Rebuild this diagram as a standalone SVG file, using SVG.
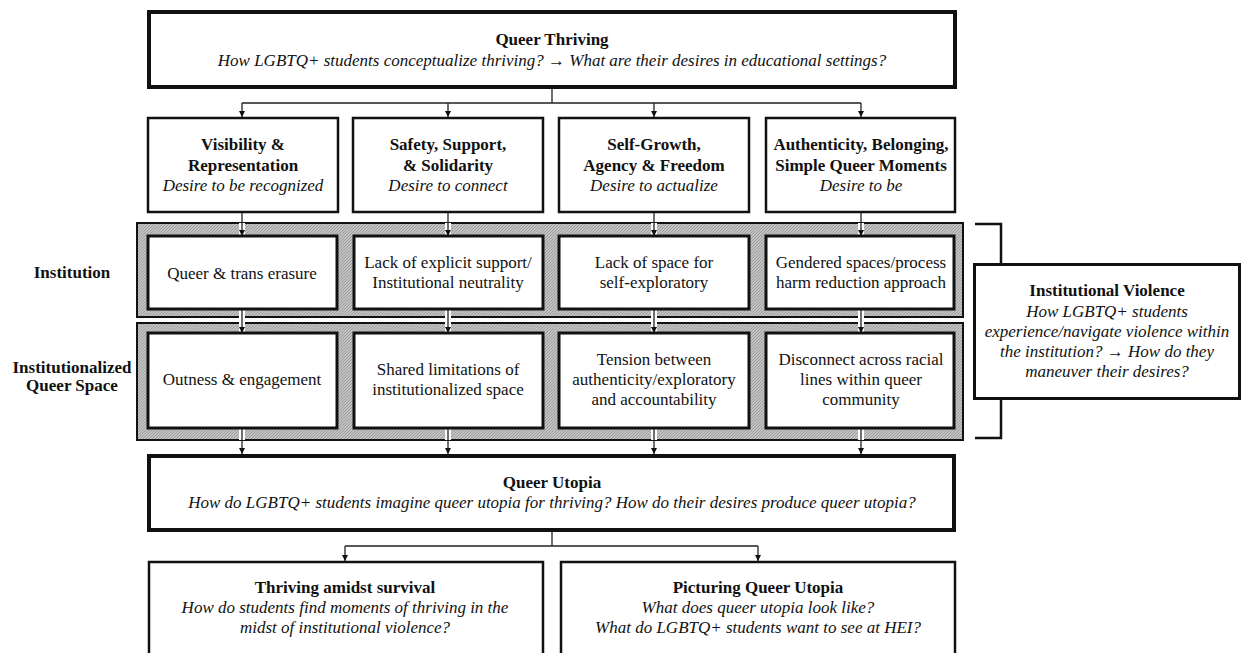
<svg xmlns="http://www.w3.org/2000/svg" width="1243" height="653" viewBox="0 0 1243 653">
<style>
text{font-family:"Liberation Serif","Times New Roman",serif;font-size:17px;fill:#111;text-anchor:middle}
.b{font-weight:bold}
.i{font-style:italic}
.thick{fill:#fff;stroke:#111;stroke-width:4}
.box{fill:#fff;stroke:#111;stroke-width:2.5}
.inner{fill:#fff;stroke:#111;stroke-width:3}
.band{fill:url(#hatch);stroke:#111;stroke-width:2}
.con{fill:none;stroke:#222;stroke-width:1.3}
.gap{stroke:#fff;stroke-width:6}
</style>
<defs>
<pattern id="hatch" width="3" height="3" patternUnits="userSpaceOnUse">
<rect width="3" height="3" fill="#c2c2c2"/>
<path d="M-1,1 L1,-1 M0,3 L3,0 M2,4 L4,2" stroke="#8c8c8c" stroke-width="0.7"/>
</pattern>
<marker id="ah" viewBox="0 0 8 8" refX="8" refY="4" markerWidth="6" markerHeight="6" orient="auto" markerUnits="userSpaceOnUse">
<path d="M0,0 L8,4 L0,8 z" fill="#111"/>
</marker>
</defs>

<g id="bands">
<rect class="band" x="137" y="223" width="826" height="94"/>
<rect class="band" x="137" y="323" width="826" height="117"/>
</g>

<g id="connectors">
<path class="gap" d="M242,223 V236 M448,223 V236 M654,223 V236 M861,223 V236"/>
<path class="gap" d="M242,309 V333 M448,309 V333 M654,309 V333 M861,309 V333"/>
<path class="gap" d="M242,428 V440 M448,428 V440 M654,428 V440 M861,428 V440"/>
<path class="con" d="M552,88 V103 M242,103 H861"/>
<line class="con" x1="242" y1="103" x2="242" y2="117" marker-end="url(#ah)"/>
<line class="con" x1="448" y1="103" x2="448" y2="117" marker-end="url(#ah)"/>
<line class="con" x1="654" y1="103" x2="654" y2="117" marker-end="url(#ah)"/>
<line class="con" x1="861" y1="103" x2="861" y2="117" marker-end="url(#ah)"/>
<line class="con" x1="242" y1="212" x2="242" y2="236" marker-end="url(#ah)"/>
<line class="con" x1="448" y1="212" x2="448" y2="236" marker-end="url(#ah)"/>
<line class="con" x1="654" y1="212" x2="654" y2="236" marker-end="url(#ah)"/>
<line class="con" x1="861" y1="212" x2="861" y2="236" marker-end="url(#ah)"/>
<line class="con" x1="242" y1="309" x2="242" y2="333" marker-end="url(#ah)"/>
<line class="con" x1="448" y1="309" x2="448" y2="333" marker-end="url(#ah)"/>
<line class="con" x1="654" y1="309" x2="654" y2="333" marker-end="url(#ah)"/>
<line class="con" x1="861" y1="309" x2="861" y2="333" marker-end="url(#ah)"/>
<line class="con" x1="242" y1="428" x2="242" y2="454" marker-end="url(#ah)"/>
<line class="con" x1="448" y1="428" x2="448" y2="454" marker-end="url(#ah)"/>
<line class="con" x1="654" y1="428" x2="654" y2="454" marker-end="url(#ah)"/>
<line class="con" x1="861" y1="428" x2="861" y2="454" marker-end="url(#ah)"/>
<path class="con" d="M552,531 V546 M345,546 H758"/>
<line class="con" x1="345" y1="546" x2="345" y2="561" marker-end="url(#ah)"/>
<line class="con" x1="758" y1="546" x2="758" y2="561" marker-end="url(#ah)"/>
<path d="M975,224 H1001 V263 M1001,400 V438 H975" fill="none" stroke="#111" stroke-width="2.5"/>
</g>

<g id="queer-thriving">
<rect class="thick" x="149" y="12" width="806" height="75"/>
<text class="b" x="552" y="45">Queer Thriving</text>
<text class="i" x="552" y="66">How LGBTQ+ students conceptualize thriving? → What are their desires in educational settings?</text>
</g>

<g id="visibility">
<rect class="box" x="148" y="118" width="190" height="94"/>
<text class="b" x="243" y="150">Visibility &amp;</text>
<text class="b" x="243" y="171">Representation</text>
<text class="i" x="243" y="191">Desire to be recognized</text>
</g>
<g id="safety">
<rect class="box" x="353" y="118" width="190" height="94"/>
<text class="b" x="448" y="150">Safety, Support,</text>
<text class="b" x="448" y="171">&amp; Solidarity</text>
<text class="i" x="448" y="191">Desire to connect</text>
</g>
<g id="self-growth">
<rect class="box" x="559" y="118" width="190" height="94"/>
<text class="b" x="654" y="150">Self-Growth,</text>
<text class="b" x="654" y="171">Agency &amp; Freedom</text>
<text class="i" x="654" y="191">Desire to actualize</text>
</g>
<g id="authenticity">
<rect class="box" x="766" y="118" width="189" height="94"/>
<text class="b" x="861" y="150">Authenticity, Belonging,</text>
<text class="b" x="861" y="171">Simple Queer Moments</text>
<text class="i" x="861" y="191">Desire to be</text>
</g>

<g id="label-institution">
<text class="b" x="72" y="278">Institution</text>
</g>
<g id="label-iqs">
<text class="b" x="72" y="373">Institutionalized</text>
<text class="b" x="72" y="391">Queer Space</text>
</g>

<g id="erasure">
<rect class="inner" x="148" y="236" width="189" height="73"/>
<text x="242" y="279">Queer &amp; trans erasure</text>
</g>
<g id="lack-support">
<rect class="inner" x="354" y="236" width="189" height="73"/>
<text x="448" y="268">Lack of explicit support/</text>
<text x="448" y="288">Institutional neutrality</text>
</g>
<g id="lack-space">
<rect class="inner" x="559" y="236" width="190" height="73"/>
<text x="654" y="268">Lack of space for</text>
<text x="654" y="288">self-exploratory</text>
</g>
<g id="gendered">
<rect class="inner" x="766" y="236" width="188" height="73"/>
<text x="861" y="268">Gendered spaces/process</text>
<text x="861" y="288">harm reduction approach</text>
</g>

<g id="outness">
<rect class="inner" x="148" y="333" width="189" height="95"/>
<text x="242" y="385">Outness &amp; engagement</text>
</g>
<g id="shared">
<rect class="inner" x="354" y="333" width="189" height="95"/>
<text x="448" y="375">Shared limitations of</text>
<text x="448" y="395">institutionalized space</text>
</g>
<g id="tension">
<rect class="inner" x="559" y="333" width="190" height="95"/>
<text x="654" y="365">Tension between</text>
<text x="654" y="385">authenticity/exploratory</text>
<text x="654" y="405">and accountability</text>
</g>
<g id="disconnect">
<rect class="inner" x="766" y="333" width="188" height="95"/>
<text x="861" y="365">Disconnect across racial</text>
<text x="861" y="385">lines within queer</text>
<text x="861" y="405">community</text>
</g>

<g id="institutional-violence">
<rect x="974.5" y="264.5" width="265" height="134" fill="#fff" stroke="#111" stroke-width="3"/>
<text class="b" x="1107" y="296">Institutional Violence</text>
<text class="i" x="1107" y="317">How LGBTQ+ students</text>
<text class="i" x="1107" y="337">experience/navigate violence within</text>
<text class="i" x="1107" y="357">the institution? → How do they</text>
<text class="i" x="1107" y="377">maneuver their desires?</text>
</g>

<g id="queer-utopia">
<rect class="thick" x="149" y="456" width="805" height="74"/>
<text class="b" x="552" y="488">Queer Utopia</text>
<text class="i" x="552" y="508">How do LGBTQ+ students imagine queer utopia for thriving? How do their desires produce queer utopia?</text>
</g>

<g id="thriving-amidst">
<rect class="box" x="149" y="562" width="394" height="110"/>
<text class="b" x="345" y="593">Thriving amidst survival</text>
<text class="i" x="345" y="613">How do students find moments of thriving in the</text>
<text class="i" x="345" y="633">midst of institutional violence?</text>
</g>
<g id="picturing">
<rect class="box" x="561" y="562" width="394" height="110"/>
<text class="b" x="758" y="593">Picturing Queer Utopia</text>
<text class="i" x="758" y="613">What does queer utopia look like?</text>
<text class="i" x="758" y="633">What do LGBTQ+ students want to see at HEI?</text>
</g>
</svg>
